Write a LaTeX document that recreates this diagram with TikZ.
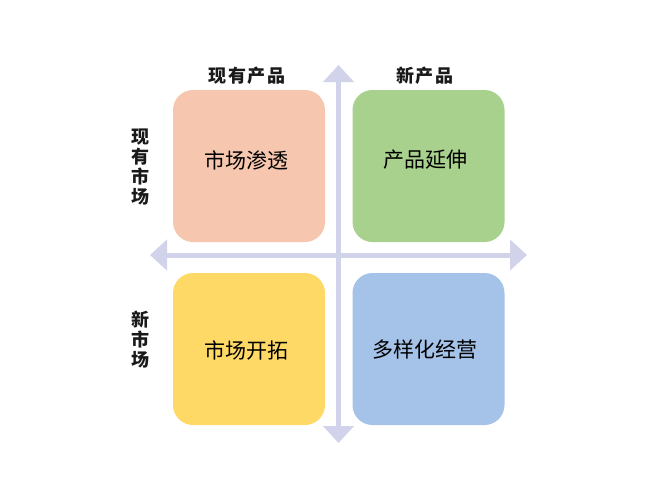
\documentclass[tikz,border=0pt]{standalone}
\usepackage{fontspec}
\newfontfamily\cjk{Noto Sans CJK SC}
\usetikzlibrary{arrows.meta}
\definecolor{peach}{HTML}{F6C7AE}
\definecolor{leaf}{HTML}{A9D18E}
\definecolor{gold}{HTML}{FFD966}
\definecolor{sky}{HTML}{A5C2E8}
\definecolor{axiscol}{HTML}{D0D3EA}
\begin{document}
\begin{tikzpicture}[x=1pt,y=-1pt,
  quad/.style={rounded corners=20pt, minimum width=152pt, minimum height=152pt, inner sep=0pt, draw=none},
  quadtext/.style={font=\cjk\fontsize{21}{24}\selectfont, text=black, inner sep=0pt},
  headlabel/.style={font=\cjk\bfseries\fontsize{18}{20}\selectfont\addfontfeature{LetterSpace=10}, text=black!90, inner sep=0pt},
  sidelabel/.style={font=\cjk\bfseries\fontsize{18}{20}\selectfont, text=black!90, align=center, inner sep=0pt},
  axisline/.style={draw=axiscol, line width=5pt, -{Triangle[length=17pt,width=30pt]}}
]
\useasboundingbox (0,0) rectangle (650,498);
\fill[white] (0,0) rectangle (650,498);

% axes
\coordinate (c) at (338.5,255);
\coordinate (top) at (338.5,65);
\coordinate (bottom) at (338.5,443);
\coordinate (left) at (150,255);
\coordinate (right) at (527,255);
\draw[axisline] (c) -- (top);
\draw[axisline] (c) -- (bottom);
\draw[axisline] (c) -- (left);
\draw[axisline] (c) -- (right);

% quadrants
\node[quad, fill=peach] (tl) at (249,166) {};
\node[quad, fill=leaf] (tr) at (428.5,166) {};
\node[quad, fill=gold] (bl) at (249,349) {};
\node[quad, fill=sky] (br) at (428.5,349) {};

\node[quadtext] (tlt) at (246,160) {市场渗透};
\node[quadtext] (trt) at (425,160) {产品延伸};
\node[quadtext] (blt) at (246,350) {市场开拓};
\node[quadtext] (brt) at (425,350) {多样化经营};

% headings
\node[headlabel] (h1) at (247,76) {现有产品};
\node[headlabel] (h2) at (425,76) {新产品};
\node[sidelabel] (s1) at (140,167) {现\\有\\市\\场};
\node[sidelabel] (s2) at (140,340) {新\\市\\场};
\end{tikzpicture}
\end{document}
